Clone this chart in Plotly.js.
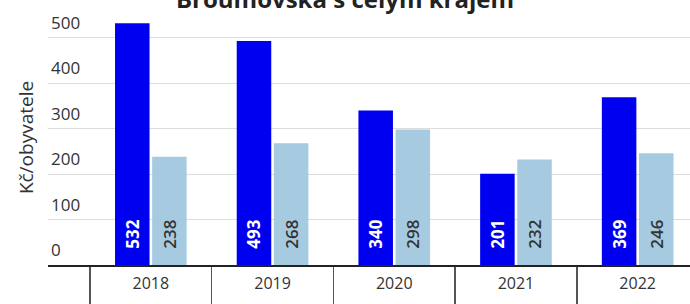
<!DOCTYPE html>
<html>
<head>
<meta charset="utf-8">
<script src="https://cdn.plot.ly/plotly-3.0.1.min.js"></script>
<style>html,body{margin:0;padding:0;background:#fff;}#chart{width:690px;height:304px;}</style>
</head>
<body>
<div id="chart"></div>
<script>
const years = ['2018', '2019', '2020', '2021', '2022'];
const broumovsko = [532, 493, 340, 201, 369];
const kraj = [238, 268, 298, 232, 246];
const seriesNames = ['Broumovsko', 'Královéhradecký kraj'];
const yTicks = [0, 100, 200, 300, 400, 500];

const FONT = 'Open Sans, sans-serif';

const traces = [
  {
    type: 'bar', name: seriesNames[0], x: years, y: broumovsko,
    marker: {color: '#0000f0'},
    text: broumovsko.map(String),
    texttemplate: '\u00a0\u00a0\u00a0%{text}',
    textposition: 'inside', insidetextanchor: 'start', textangle: -90,
    textfont: {color: '#ffffff', size: 17, family: FONT, weight: 700},
    hoverinfo: 'skip'
  },
  {
    type: 'bar', name: seriesNames[1], x: years, y: kraj,
    marker: {color: '#a6cbe0'},
    text: kraj.map(String),
    texttemplate: '\u00a0\u00a0\u00a0%{text}',
    textposition: 'inside', insidetextanchor: 'start', textangle: -90,
    textfont: {color: '#333333', size: 17, family: FONT, weight: 600},
    hoverinfo: 'skip'
  }
];

const layout = {
  width: 690, height: 304,
  margin: {l: 48, r: 0, t: 10, b: 39},
  paper_bgcolor: '#ffffff', plot_bgcolor: '#ffffff',
  showlegend: false,
  barmode: 'group', bargap: 0.39, bargroupgap: 0.07,
  font: {family: FONT, color: '#333333', size: 15},
  title: {
    text: 'Broumovska s celým krajem',
    font: {family: FONT, size: 24, color: '#222222', weight: 700},
    x: 0.5, xanchor: 'center', xref: 'container',
    y: 1, yanchor: 'middle', yref: 'container'
  },
  xaxis: {
    type: 'category',
    range: [-0.845, 4.43],
    showgrid: false, zeroline: false,
    showline: true, linecolor: '#222222', linewidth: 2,
    ticks: 'outside', tickson: 'boundaries', ticklen: 40, tickwidth: 1.5, tickcolor: '#555555',
    ticklabelstandoff: 3,
    tickfont: {family: FONT, size: 16, color: '#333333'}
  },
  yaxis: {
    range: [0, 561],
    tickvals: yTicks,
    automargin: false,
    showgrid: true, gridcolor: '#dddddd', gridwidth: 1,
    zeroline: false, showline: false, ticks: '',
    ticklabelposition: 'inside', ticklabelshift: -15,
    tickfont: {family: FONT, size: 17, color: '#333333'},
    title: {text: 'Kč/obyvatele', font: {family: FONT, size: 19, color: '#333333'}, standoff: 12}
  }
};

Plotly.newPlot('chart', traces, layout, {displayModeBar: false, staticPlot: true});
</script>
</body>
</html>
